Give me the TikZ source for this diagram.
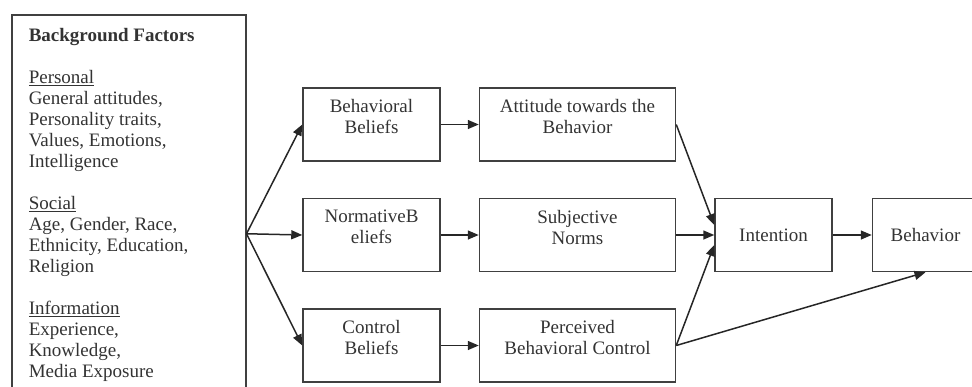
\documentclass[tikz,border=0pt]{standalone}
\usepackage{fontspec}
\setmainfont{Liberation Serif}
\usetikzlibrary{arrows.meta,positioning}
\tikzset{
every node/.style=
    {draw=black!75,
    line width=1.5pt,
    rectangle,
    minimum height=73pt,
    align=center,
    text=black!80,
    font=\fontsize{19}{21}\selectfont,
    inner sep=3pt
    },
raised/.style={execute at end node={\rule[-16pt]{0pt}{0pt}}},
narrow/.style={raised,minimum width=137pt},
wide/.style={raised,minimum width=196pt},
link/.style=
    {draw=black!85,
    line width=1.5pt,
    -{Triangle[length=11pt,width=9pt]}
    }}

\begin{document}
\begin{tikzpicture}[x=1pt,y=-1pt]
\useasboundingbox (0,0) rectangle (972,386);
\clip (0,0) rectangle (972,386);
\node[anchor=north west,inner xsep=17pt,inner ysep=14pt,minimum height=0pt,align=left] (bg) at (11,14)
{\parbox[c][410pt][t]{200pt}{\raggedright
\textbf{Background Factors}\\[21pt]
\underline{Personal}\\
General attitudes,\\
Personality traits,\\
Values, Emotions,\\
Intelligence\\[21pt]
\underline{Social}\\
Age, Gender, Race,\\
Ethnicity, Education,\\
Religion\\[21pt]
\underline{Information}\\
Experience,\\
Knowledge,\\
Media Exposure}};
\node[narrow] (behbel) at (371.5,124.5) {Behavioral\\Beliefs};
\node[narrow,below=36pt of behbel] (normbel) {NormativeB\\eliefs};
\node[narrow,below=36pt of normbel] (ctrlbel) {Control\\Beliefs};
\node[wide,right=38pt of behbel] (attit) {Attitude towards the\\Behavior};
\node[wide,right=38pt of normbel] (subnorm) {Subjective\\Norms};
\node[wide,right=38pt of ctrlbel] (percon) {Perceived\\Behavioral Control};
\node[minimum width=117pt,right=38pt of subnorm] (intent) {Intention};
\node[minimum width=106pt,right=39pt of intent] (behav) {Behavior};

\draw[link] (bg.east) -- (behbel.west);
\draw[link] (bg.east) -- (normbel.west);
\draw[link] (bg.east) -- (ctrlbel.west);
\draw[link] (behbel) -- (attit);
\draw[link] (normbel) -- (subnorm);
\draw[link] (ctrlbel) -- (percon);
\draw[link] (attit.east) -- ([yshift=10pt]intent.west);
\draw[link] (subnorm) -- (intent);
\draw[link] (percon.east) -- ([yshift=-10pt]intent.west);
\draw[link] (percon.east) -- (behav.south);
\draw[link] (intent) -- (behav);
\end{tikzpicture}
\end{document}
